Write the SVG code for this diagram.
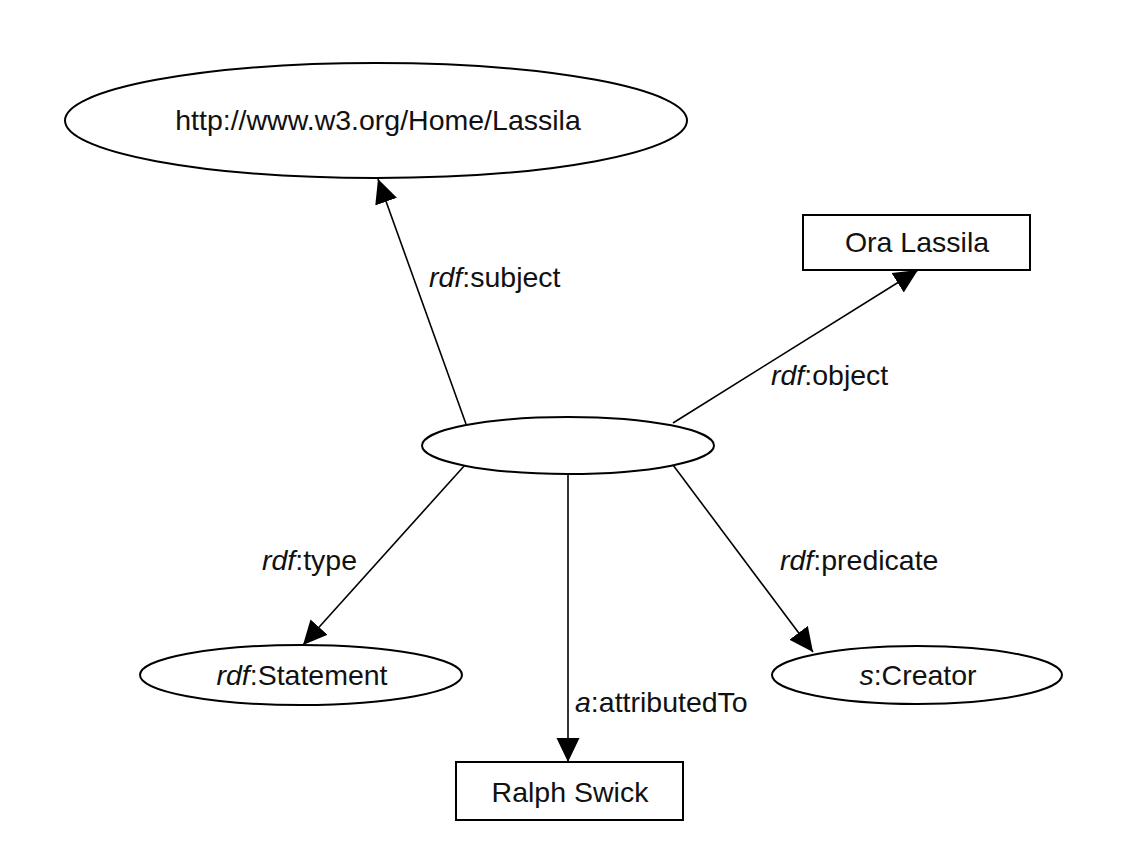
<svg xmlns="http://www.w3.org/2000/svg" width="1137" height="844" viewBox="0 0 1137 844">
  <style>
    .node { fill: #ffffff; stroke: #000000; stroke-width: 2; }
    .edge { fill: none; stroke: #000000; stroke-width: 1.6; }
    .lbl { font-family: "Liberation Sans", Arial, sans-serif; font-size: 28.5px; fill: #111111; }
    .mid { text-anchor: middle; }
    .ns { font-style: italic; }
  </style>
  <defs>
    <marker id="arrow" markerUnits="userSpaceOnUse" markerWidth="26" markerHeight="24" refX="24" refY="12" orient="auto" viewBox="0 0 26 24">
      <path d="M0,0.5 L24,12 L0,23.5 z" fill="#000000"/>
    </marker>
  </defs>
  <rect width="1137" height="844" fill="#ffffff"/>

  <!-- connectors -->
  <g id="connectors">
    <line class="edge" x1="466" y1="424" x2="378" y2="179" marker-end="url(#arrow)"/>
    <line class="edge" x1="673" y1="423" x2="918" y2="270" marker-end="url(#arrow)"/>
    <line class="edge" x1="465" y1="465" x2="303" y2="645" marker-end="url(#arrow)"/>
    <line class="edge" x1="568" y1="474" x2="568" y2="762" marker-end="url(#arrow)"/>
    <line class="edge" x1="673" y1="465" x2="813" y2="652" marker-end="url(#arrow)"/>
  </g>

  <!-- edge labels -->
  <g id="edge-labels">
    <text class="lbl" x="429" y="287"><tspan class="ns">rdf</tspan>:subject</text>
    <text class="lbl" x="771" y="385"><tspan class="ns">rdf</tspan>:object</text>
    <text class="lbl" x="262" y="570"><tspan class="ns">rdf</tspan>:type</text>
    <text class="lbl" x="780" y="570"><tspan class="ns">rdf</tspan>:predicate</text>
    <text class="lbl" x="575" y="712"><tspan class="ns">a</tspan>:attributedTo</text>
  </g>

  <g id="node-lassila-uri">
    <ellipse class="node" cx="376" cy="120.5" rx="311" ry="57.5"/>
    <text class="lbl mid" x="378" y="130">http://www.w3.org/Home/Lassila</text>
  </g>

  <g id="node-ora">
    <rect class="node" x="803" y="215" width="227" height="55"/>
    <text class="lbl mid" x="917" y="252">Ora Lassila</text>
  </g>

  <g id="node-statement-resource">
    <ellipse class="node" cx="568" cy="445.5" rx="146" ry="28.5"/>
  </g>

  <g id="node-rdf-statement">
    <ellipse class="node" cx="301" cy="675" rx="161" ry="30"/>
    <text class="lbl mid" x="302" y="685"><tspan class="ns">rdf</tspan>:Statement</text>
  </g>

  <g id="node-creator">
    <ellipse class="node" cx="917" cy="675" rx="145" ry="29"/>
    <text class="lbl mid" x="918" y="685"><tspan class="ns">s</tspan>:Creator</text>
  </g>

  <g id="node-ralph">
    <rect class="node" x="456" y="762" width="227" height="58"/>
    <text class="lbl mid" x="570" y="802">Ralph Swick</text>
  </g>
</svg>
